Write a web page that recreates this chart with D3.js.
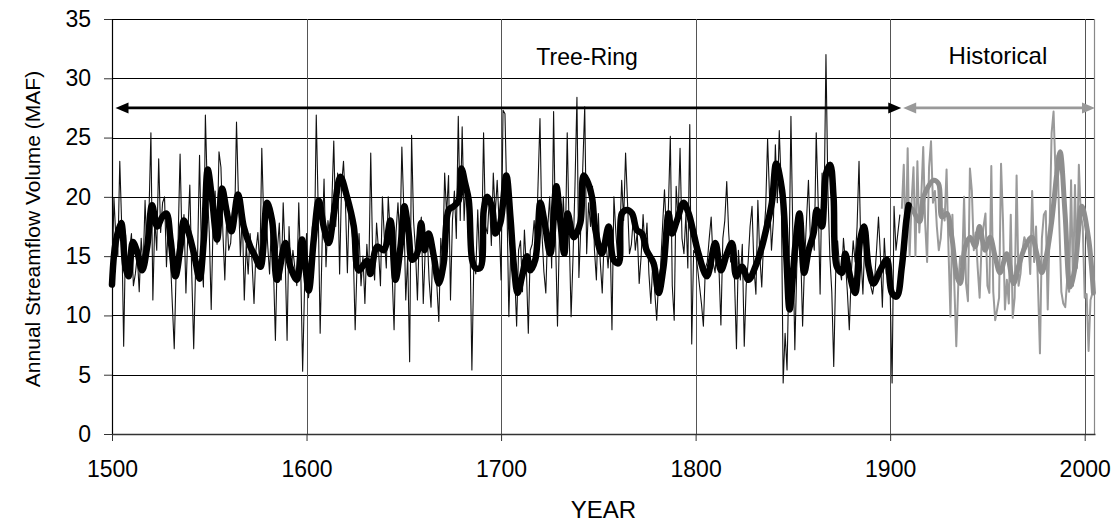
<!DOCTYPE html>
<html>
<head>
<meta charset="utf-8">
<script src="https://cdn.jsdelivr.net/npm/d3@7"></script>
<style>
  body { margin: 0; background: #fff; }
  svg { font-family: "Liberation Sans", Arial, sans-serif; }
</style>
</head>
<body>
<svg width="1120" height="523"></svg>
<script>
// annual tree-ring reconstruction, 1500-1905 (MAF)
const treeStart = 1500
const treeRing = [
  12.6, 19.9, 16.5, 15.0, 23.0, 17.5, 7.4, 16.8, 13.3, 15.5,
  16.9, 12.5, 13.5, 15.0, 12.0, 16.5, 14.0, 19.7, 15.0, 18.5,
  25.4, 11.3, 18.0, 15.5, 23.2, 17.0, 19.5, 20.0, 14.1, 18.0,
  15.0, 11.0, 7.2, 14.0, 16.5, 23.6, 16.0, 18.5, 11.9, 17.0,
  21.0, 13.5, 7.2, 14.1, 15.0, 23.5, 15.0, 12.4, 26.9, 20.5,
  17.0, 10.5, 18.0, 20.5, 16.0, 23.8, 22.5, 17.0, 13.0, 18.5,
  15.5, 16.1, 19.0, 17.5, 26.3, 20.0, 15.0, 18.5, 11.3, 16.0,
  13.5, 16.9, 14.5, 11.0, 15.5, 17.0, 14.0, 24.1, 18.0, 19.5,
  16.0, 13.5, 18.0, 14.0, 7.9, 15.5, 17.8, 13.0, 19.5, 15.0,
  7.9, 17.5, 13.5, 15.5, 14.0, 12.5, 19.5, 14.0, 5.3, 12.5,
  16.9, 11.5, 13.0, 17.5, 15.0, 26.9, 19.0, 8.5, 16.0, 21.5,
  14.1, 18.0, 16.5, 19.5, 24.7, 17.5, 22.0, 13.5, 21.0, 23.0,
  19.5, 13.6, 20.0, 18.5, 15.5, 8.8, 14.5, 16.9, 12.5, 15.0,
  11.0, 16.0, 13.5, 23.7, 15.0, 13.0, 17.8, 15.5, 12.5, 20.0,
  16.5, 14.0, 20.0, 17.0, 13.5, 8.8, 17.0, 19.5, 16.0, 24.2,
  19.0, 11.3, 15.0, 6.1, 25.2, 18.0, 15.5, 11.3, 17.0, 18.3,
  11.0, 15.5, 17.0, 13.0, 10.7, 16.0, 14.0, 12.5, 9.5, 16.5,
  14.5, 22.0, 18.5, 21.8, 11.3, 18.0, 20.5, 16.5, 26.8, 18.0,
  25.9, 18.0, 21.5, 18.9, 16.5, 5.4, 14.5, 13.5, 18.9, 14.5,
  15.6, 25.4, 17.5, 16.9, 20.0, 15.9, 22.0, 18.5, 21.4, 17.8,
  13.0, 27.3, 27.0, 19.5, 9.9, 16.0, 15.0, 13.5, 9.1, 15.5,
  16.3, 12.0, 17.2, 14.0, 8.5, 15.5, 16.0, 18.0, 15.5, 21.0,
  26.6, 17.0, 13.7, 11.9, 17.5, 20.0, 14.0, 27.2, 16.5, 9.1,
  17.0, 16.3, 20.0, 15.5, 25.4, 17.0, 9.9, 15.0, 21.0, 28.4,
  13.2, 17.5, 22.5, 27.6, 15.2, 19.5, 17.5, 20.9, 15.5, 13.0,
  18.6, 14.5, 11.9, 16.5, 16.1, 14.0, 17.0, 8.8, 20.0, 17.0,
  14.7, 16.5, 21.4, 18.0, 23.7, 19.5, 15.2, 16.0, 18.3, 15.5,
  17.0, 12.7, 15.0, 18.5, 15.5, 17.8, 13.5, 11.0, 14.5, 12.0,
  9.6, 13.0, 14.1, 17.5, 20.6, 17.0, 19.0, 25.1, 12.5, 9.6,
  20.9, 18.0, 24.1, 16.5, 15.2, 18.5, 14.0, 26.1, 7.6, 15.5,
  15.2, 14.0, 12.5, 11.0, 9.1, 14.0, 14.5, 16.5, 18.3, 14.5,
  13.6, 16.0, 14.0, 9.2, 16.5, 18.0, 21.3, 17.0, 14.5, 15.5,
  13.0, 7.2, 15.5, 13.0, 16.0, 7.4, 12.5, 14.5, 17.5, 19.2,
  14.0, 11.8, 19.7, 15.0, 12.4, 16.5, 19.0, 24.9, 20.0, 15.5,
  18.0, 24.4, 19.5, 25.6, 21.0, 4.3, 8.5, 5.4, 14.0, 26.8,
  16.5, 7.1, 14.0, 18.3, 15.5, 9.1, 14.5, 18.0, 21.4, 16.5,
  17.0, 15.5, 25.4, 19.5, 11.8, 22.0, 18.5, 32.0, 20.5, 15.0,
  12.0, 5.7, 13.5, 16.3, 14.0, 13.0, 16.5, 14.5, 12.0, 8.8,
  13.5, 16.3, 14.5, 17.5, 23.0, 15.0, 11.8, 16.5, 14.0, 13.5,
  12.5, 11.8, 13.0, 15.5, 18.3, 15.0, 10.7, 16.5, 13.5, 14.5,
  12.0, 4.3, 19.2, 15.5, 17.0, 18.5
]

// smoothed tree-ring curve [year, MAF]
const treeSmooth = [
  [1500,12.6],[1501.8,16.1],[1504.7,17.8],[1506.9,14.1],[1508.6,13.3],[1510.7,16.2],
  [1512.9,15.4],[1515.5,13.8],[1518.1,15.8],[1520.6,19.3],[1523.2,17.5],[1525.8,18.3],
  [1528,18.6],[1530.1,16.4],[1532.6,13.3],[1535.2,15.8],[1536.9,18.0],[1539.5,16.9],
  [1542.4,15.0],[1545,13.1],[1547.2,16.4],[1549.2,22.3],[1551.5,19.7],[1554,16.4],
  [1556.6,20.7],[1558.8,18.9],[1561.4,17.1],[1564.8,20.2],[1567.7,17.5],[1571.1,15.8],
  [1573.5,15.0],[1576.3,14.1],[1579.7,19.5],[1582.3,18.0],[1584.8,13.0],[1589.1,16.1],
  [1591.7,14.1],[1595.1,13.0],[1597.7,16.4],[1601.1,12.1],[1603.7,16.4],[1606.3,19.7],
  [1608.8,17.5],[1611.4,16.1],[1614,18.5],[1617.4,21.7],[1620.8,20.0],[1624.3,17.5],
  [1626.8,13.8],[1631.1,14.6],[1632.8,13.5],[1636.3,15.8],[1639.7,15.5],[1643.1,18.0],
  [1645.7,13.0],[1648.3,15.8],[1650.3,19.2],[1652.5,16.9],[1654.2,14.7],[1656.8,15.2],
  [1658.9,17.8],[1660.6,15.5],[1662.8,16.9],[1665.4,15.0],[1668,12.7],[1670.5,14.4],
  [1673.1,18.9],[1675.6,19.2],[1678.2,19.7],[1679.6,22.4],[1681.6,21.1],[1683.4,19.7],
  [1685.1,14.7],[1686.8,14.0],[1689.3,14.0],[1691.1,18.9],[1692.8,20.0],[1695.3,19.2],
  [1697.1,16.9],[1699.6,17.8],[1702.7,21.8],[1704.8,18.3],[1706.8,13.8],[1708.5,11.9],
  [1710.8,13.3],[1713.3,15.0],[1715,13.8],[1717.6,14.7],[1720.2,19.5],[1722.2,18.0],
  [1725.3,15.2],[1728.4,20.9],[1730.4,18.0],[1732.5,15.2],[1734.2,18.6],[1737.3,16.6],
  [1740.7,17.8],[1742.4,21.8],[1744.1,21.4],[1746.7,20.0],[1748.4,17.3],[1751.8,15.2],
  [1755.3,17.5],[1757.8,14.7],[1760.4,14.4],[1762.1,18.6],[1764.7,18.9],[1767.3,18.6],
  [1769.8,17.2],[1772.4,16.9],[1774.8,15.5],[1778.4,14.4],[1781,11.9],[1783.5,14.1],
  [1786.1,18.6],[1787.8,16.9],[1790.4,18.0],[1793.8,19.5],[1796.4,18.6],[1799,16.9],
  [1801.5,15.2],[1805.8,13.3],[1810.1,16.1],[1813,13.8],[1816.1,15.2],[1818.7,16.1],
  [1820.9,13.3],[1823.8,14.1],[1827.2,13.0],[1830.7,14.1],[1834.1,15.8],[1836.6,17.5],
  [1839.2,19.5],[1841.4,22.8],[1844.4,20.6],[1846.6,15.0],[1848.3,10.5],[1851.2,15.8],
  [1853.4,18.6],[1855.8,13.6],[1858.1,15.5],[1860.6,16.9],[1862.3,18.9],[1864.9,17.5],
  [1867.1,22.0],[1869.2,22.7],[1870.9,20.0],[1872.6,14.1],[1875.2,13.6],[1876.9,15.2],
  [1879.4,13.3],[1882,11.9],[1884.6,16.4],[1886.6,17.5],[1888.9,14.1],[1891.4,12.7],
  [1894.9,13.8],[1898.3,14.7],[1900.9,11.9],[1903.4,11.6],[1906,14.1],[1908.3,18.0],
  [1909.5,19.3]
]

// historical (gaged) annual flow, 1906-2004 (MAF)
const histStart = 1906
const historical = [
  19.0, 22.7, 15.5, 24.1, 15.0, 19.5, 22.5, 15.0, 23.0, 17.0,
  20.0, 24.2, 17.8, 14.5, 22.5, 24.7, 19.5, 20.5, 17.5, 15.5,
  16.5, 19.0, 18.0, 22.3, 15.5, 9.9, 18.5, 12.5, 7.4, 12.5,
  15.0, 14.0, 20.0, 12.7, 11.2, 22.4, 20.5, 15.5, 17.0, 14.0,
  11.5, 16.0, 17.5, 18.6, 12.5, 11.9, 22.6, 12.0, 9.6, 10.5,
  11.5, 22.8, 18.0, 10.5, 13.0, 11.0, 18.5, 9.8, 11.5, 21.8,
  12.5, 13.5, 15.5, 16.6, 16.0, 16.5, 13.5, 20.5, 14.5, 17.5,
  12.5, 6.8, 16.5, 18.5, 18.8, 10.5, 17.5, 25.4, 27.2, 22.0,
  23.5, 17.5, 12.0, 11.0, 10.7, 13.0, 12.0, 21.4, 12.5, 21.0,
  14.0, 22.7, 18.5, 17.5, 11.5, 11.8, 7.0, 11.3, 11.9
]

// smoothed historical curve [year, MAF]
const histSmooth = [
  [1909.5,19.3],[1912,18.8],[1915.1,17.9],[1917.2,20.0],[1919.7,20.9],[1922.3,21.4],
  [1924.9,21.1],[1926.6,18.3],[1929.1,18.6],[1931.7,16.6],[1934.3,13.3],[1936,12.7],
  [1938.6,15.8],[1941.1,16.6],[1943.7,15.8],[1945.9,17.5],[1948.8,15.5],[1951.4,16.6],
  [1953.9,15.0],[1956.5,13.6],[1959.9,15.2],[1963.4,12.7],[1965.9,14.1],[1969.4,15.8],
  [1972.8,16.6],[1975.4,15.2],[1977.9,13.6],[1980.5,15.2],[1983.1,18.0],[1985.7,22.0],
  [1987.4,23.8],[1989.9,18.6],[1992.5,12.4],[1995.1,14.1],[1998.5,19.2],[2001.9,16.6],
  [2004.5,11.9]
]

const yTicks = [0, 5, 10, 15, 20, 25, 30, 35]
const xTicks = [1500, 1600, 1700, 1800, 1900, 2000]
const arrowLevel = 27.5
const treeSpan = [1501.8, 1905.7]
const histSpan = [1906.7, 2005.3]
const periodLabels = ["Tree-Ring", "Historical"]

const plotL = 112, plotR = 1095, plotT = 19, plotB = 434

const x = d3.scaleLinear().domain([1500, 2005.3]).range([plotL, plotR])
const y = d3.scaleLinear().domain([0, 35]).range([plotB, plotT])

const svg = d3.select("svg")

// grid
svg.append("g").selectAll("line")
  .data(yTicks.filter(d => d > 0))
  .join("line")
  .attr("x1", plotL).attr("x2", plotR)
  .attr("y1", d => Math.round(y(d)) + 0.5).attr("y2", d => Math.round(y(d)) + 0.5)
  .attr("stroke", "#000").attr("stroke-width", 1)

svg.append("g").selectAll("line")
  .data(xTicks.filter(d => d > 1500))
  .join("line")
  .attr("x1", d => Math.round(x(d)) + 0.5).attr("x2", d => Math.round(x(d)) + 0.5)
  .attr("y1", plotT).attr("y2", plotB)
  .attr("stroke", "#555").attr("stroke-width", 1)

svg.append("line")
  .attr("x1", plotR - 0.5).attr("x2", plotR - 0.5)
  .attr("y1", plotT).attr("y2", plotB)
  .attr("stroke", "#888").attr("stroke-width", 1.2)

// axes
const yAxis = svg.append("g")
  .attr("transform", `translate(${plotL},0)`)
  .call(d3.axisLeft(y).tickValues(yTicks).tickSize(8).tickPadding(13).tickSizeOuter(0).tickFormat(d3.format("d")))
yAxis.select(".domain").attr("stroke", "#000").attr("stroke-width", 1.2)
yAxis.selectAll(".tick line").attr("stroke", "#333")
yAxis.selectAll("text").attr("font-size", 23).attr("fill", "#000")
  .attr("font-family", "'Liberation Sans', Arial, sans-serif")

const xAxis = svg.append("g")
  .attr("transform", `translate(0,${plotB})`)
  .call(d3.axisBottom(x).tickValues(xTicks).tickSize(7).tickPadding(20).tickSizeOuter(0).tickFormat(d3.format("d")))
xAxis.select(".domain").attr("stroke", "#333").attr("stroke-width", 1.5)
xAxis.selectAll(".tick line").attr("stroke", "#333")
xAxis.selectAll("text").attr("font-size", 23).attr("fill", "#000")
  .attr("font-family", "'Liberation Sans', Arial, sans-serif")

// series
const annualLine = start => d3.line()
  .x((d, i) => x(start + i))
  .y(d => y(d))

const smoothLine = d3.line()
  .x(d => x(d[0]))
  .y(d => y(d[1]))
  .curve(d3.curveCatmullRom.alpha(0.5))

svg.append("path")
  .attr("d", annualLine(histStart)(historical))
  .attr("fill", "none").attr("stroke", "#9a9a9a")
  .attr("stroke-width", 2).attr("stroke-linejoin", "round")

svg.append("path")
  .attr("d", smoothLine(histSmooth))
  .attr("fill", "none").attr("stroke", "#8e8e8e")
  .attr("stroke-width", 5).attr("stroke-linejoin", "round").attr("stroke-linecap", "round")

svg.append("path")
  .attr("d", annualLine(treeStart)(treeRing))
  .attr("fill", "none").attr("stroke", "#111")
  .attr("stroke-width", 1.1).attr("stroke-linejoin", "round")

svg.append("path")
  .attr("d", smoothLine(treeSmooth))
  .attr("fill", "none").attr("stroke", "#000")
  .attr("stroke-width", 6.5).attr("stroke-linejoin", "round").attr("stroke-linecap", "round")

// period arrows
function arrow(span, color, twoHeads) {
  let ay = y(arrowLevel)
  let x1 = x(span[0]), x2 = x(span[1])
  let hl = 13, hw = 5.5
  svg.append("line")
    .attr("x1", x1 + hl - 2).attr("x2", x2 - hl + 2)
    .attr("y1", ay).attr("y2", ay)
    .attr("stroke", color).attr("stroke-width", 2.8)
  svg.append("path")
    .attr("d", `M${x2},${ay}L${x2 - hl},${ay - hw}L${x2 - hl},${ay + hw}Z`)
    .attr("fill", color)
  if (twoHeads) {
    svg.append("path")
      .attr("d", `M${x1},${ay}L${x1 + hl},${ay - hw}L${x1 + hl},${ay + hw}Z`)
      .attr("fill", color)
  }
}
arrow(treeSpan, "#000", true)
arrow(histSpan, "#999", true)

// labels
svg.append("text")
  .attr("x", x(1744.2)).attr("y", 65)
  .attr("text-anchor", "middle").attr("font-size", 23)
  .text(periodLabels[0])

svg.append("text")
  .attr("x", x(1955.4)).attr("y", 64)
  .attr("text-anchor", "middle").attr("font-size", 24)
  .text(periodLabels[1])

svg.append("text")
  .attr("x", (plotL + plotR) / 2).attr("y", 518)
  .attr("text-anchor", "middle").attr("font-size", 24)
  .text("YEAR")

svg.append("text")
  .attr("transform", "translate(40,229) rotate(-90)")
  .attr("text-anchor", "middle").attr("font-size", 21)
  .text("Annual Streamflow Volume (MAF)")
</script>
</body>
</html>
